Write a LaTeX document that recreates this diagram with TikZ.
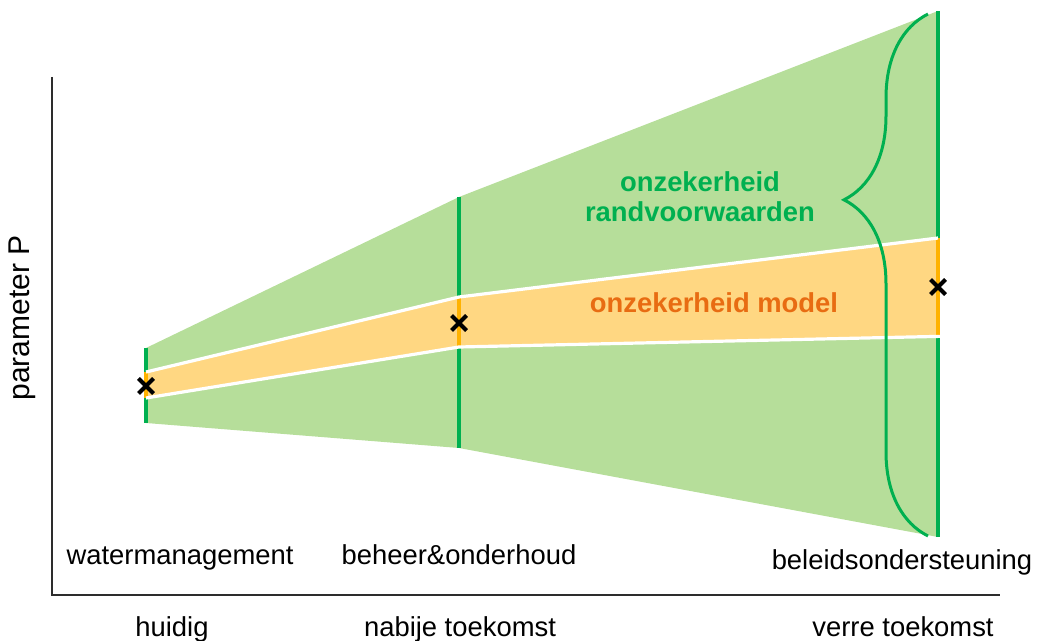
\documentclass[tikz,border=0pt]{standalone}
\usepackage{fontspec}
\setmainfont{Liberation Sans}
\usepackage{tikz}
\usetikzlibrary{positioning,shapes.misc,decorations.pathreplacing}

\definecolor{groen}{RGB}{0,176,80}
\definecolor{lichtgroen}{RGB}{182,222,154}
\definecolor{oranje}{RGB}{255,178,0}
\definecolor{lichtoranje}{RGB}{255,215,130}
\definecolor{tekstoranje}{RGB}{232,108,18}
\definecolor{asgrijs}{RGB}{45,45,45}

\begin{document}
\begin{tikzpicture}[x=0.5pt,y=-0.5pt,
  astekst/.style={font=\fontsize{13.7}{16}\selectfont, inner sep=0pt, anchor=base},
  kop/.style={font=\fontsize{13.7}{15}\selectfont\bfseries, align=center, inner sep=0pt},
  kruis/.style={cross out, draw=black, line width=2pt, minimum size=5.5pt, inner sep=0pt},
  groenlijn/.style={draw=groen, line width=2pt},
  oranjelijn/.style={draw=oranje, line width=2pt},
  rand/.style={draw=white, line width=1.6pt}]
\useasboundingbox (0,0) rectangle (1039,641);

% assen
\coordinate (ytop) at (52,77);
\coordinate (oorsprong) at (52,595);
\coordinate (xeind) at (1000,595);
\draw[asgrijs, line width=1pt] (ytop) -- (oorsprong) -- (xeind);

% onzekerheid randvoorwaarden (groen)
\coordinate (g1) at (146,348);
\coordinate (g2) at (459,197);
\coordinate (g3) at (938,11);
\coordinate (g4) at (938,537);
\coordinate (g5) at (459,448);
\coordinate (g6) at (146,423);
\fill[lichtgroen] (g1) -- (g2) -- (g3) -- (g4) -- (g5) -- (g6) -- cycle;

% onzekerheid model (oranje)
\coordinate (o1) at (146,372);
\coordinate (o2) at (459,297);
\coordinate (o3) at (938,238);
\coordinate (o4) at (938,336);
\coordinate (o5) at (459,347);
\coordinate (o6) at (146,398);
\coordinate (o7) at (956,336);
\fill[lichtoranje] (o1) -- (o2) -- (o3) -- (o4) -- (o5) -- (o6) -- cycle;

% tijdlijnen
\draw[groenlijn] (g1) -- (g6);
\draw[groenlijn] (g2) -- (g5);
\draw[groenlijn] (g3) -- (g4);
\draw[oranjelijn] (o1) -- (o6);
\draw[oranjelijn] (o2) -- (o5);
\draw[oranjelijn] (o3) -- (o4);
\draw[rand] (o1) -- (o2) -- (o3);
\draw[rand] (o6) -- (o5) -- (o7);

% schattingen
\node[kruis] (shuidig) at (146,386) {};
\node[kruis] (snabij) at (459,323) {};
\node[kruis] (sverre) at (938,287) {};

% accolade
\coordinate (bonder) at (928,536);
\coordinate (bboven) at (928,14);
\draw[groen, line width=1.5pt, decorate,
  decoration={brace, amplitude=42pt, aspect=0.644}] (bonder) -- (bboven);

\node[kop, text=groen] (onzrand) at (700,197) {onzekerheid\\randvoorwaarden};
\node[kop, text=tekstoranje] (onzmodel) at (714,303) {onzekerheid model};

\node[font=\fontsize{15}{17}\selectfont, rotate=90, inner sep=0pt] (parp) at (22,318) {parameter P};

\node[astekst] (watermgmt) at (180,565) {watermanagement};
\node[astekst] (beheer) at (459,565) {beheer\&onderhoud};
\node[astekst] (beleid) at (902,569) {beleidsondersteuning};
\node[astekst] (huidig) at (172,636) {huidig};
\node[astekst] (nabij) at (460,636) {nabije toekomst};
\node[astekst] (verre) at (903,636) {verre toekomst};
\end{tikzpicture}
\end{document}
